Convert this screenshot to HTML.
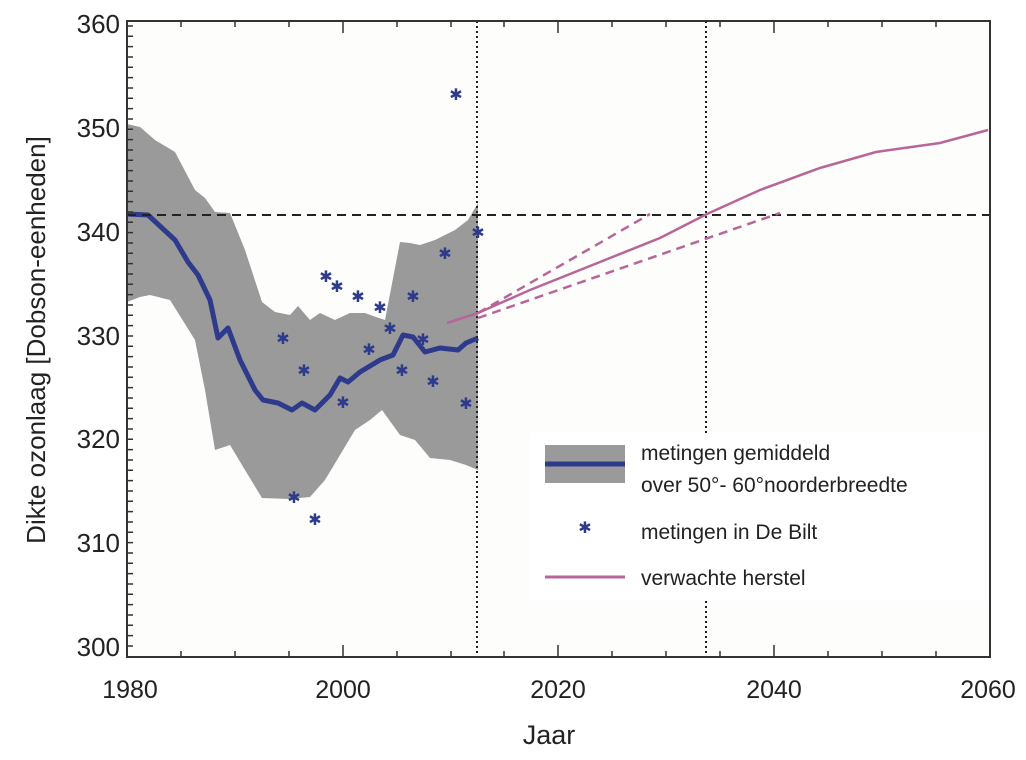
<!DOCTYPE html>
<html><head><meta charset="utf-8"><style>
body{margin:0;background:#fff}
svg{display:block;font-family:"Liberation Sans",sans-serif}
</style></head><body>
<svg width="1026" height="760" viewBox="0 0 1026 760">
<rect width="1026" height="760" fill="#fff"/>
<rect x="127" y="21" width="863" height="636" fill="#fdfdfb"/>
<polygon fill="#9a9a9a" points="127,124 140,127 155,140 175,152 195,190 205,198 215,212 230,213 245,250 262,302 275,312 290,315 298,306 310,320 320,313 335,320 350,313 365,313 373,316 385,320 400,242 410,243 420,245 435,240 455,230 468,220 478,203 478,470 466,465 450,460 430,458 415,440 400,435 382,410 370,420 355,430 340,455 325,480 310,497 290,499 262,498 245,470 230,445 215,450 205,390 195,340 170,300 150,295 140,297 127,302"/>
<polyline fill="none" stroke="#2e3a8c" stroke-width="5" stroke-linejoin="round" points="127,214 148,215 175,240 188,262 198,275 210,300 218,338 228,328 240,360 255,390 263,400 278,403 292,410 302,403 315,410 330,395 340,378 348,382 360,372 380,360 393,355 403,335 413,337 425,352 440,348 458,350 466,343 478,338"/>
<line x1="127" y1="215" x2="990" y2="215" stroke="#222" stroke-width="2" stroke-dasharray="9,6"/>
<line x1="477" y1="21" x2="477" y2="657" stroke="#222" stroke-width="2" stroke-dasharray="2,3"/>
<line x1="706" y1="21" x2="706" y2="657" stroke="#222" stroke-width="2" stroke-dasharray="2,3"/>
<polyline fill="none" stroke="#b8669a" stroke-width="2.5" points="447,323 478,313 530,290 600,262 660,238 707,214 760,190 820,168 876,152 940,143 988,130"/>
<line x1="478" y1="313" x2="650" y2="214" stroke="#b8669a" stroke-width="2.5" stroke-dasharray="9,6"/>
<line x1="478" y1="318" x2="780" y2="213" stroke="#b8669a" stroke-width="2.5" stroke-dasharray="9,6"/>
<g fill="#2e3a8c" font-size="16" text-anchor="middle">
<text x="283" y="344">✱</text><text x="294" y="503">✱</text><text x="304" y="376">✱</text><text x="315" y="525">✱</text><text x="326" y="282">✱</text><text x="337" y="292">✱</text><text x="343" y="408">✱</text><text x="358" y="302">✱</text><text x="369" y="355">✱</text><text x="380" y="313">✱</text><text x="390" y="334">✱</text><text x="402" y="376">✱</text><text x="413" y="302">✱</text><text x="423" y="345">✱</text><text x="433" y="387">✱</text><text x="445" y="259">✱</text><text x="456" y="100">✱</text><text x="466" y="409">✱</text><text x="478" y="238">✱</text>
</g>
<rect x="530" y="433" width="455" height="168" fill="#fff"/>
<rect x="545" y="445" width="80" height="38" fill="#9a9a9a"/>
<line x1="545" y1="464" x2="625" y2="464" stroke="#2e3a8c" stroke-width="5"/>
<text x="585" y="533" fill="#2e3a8c" font-size="16" text-anchor="middle">✱</text>
<line x1="545" y1="577" x2="625" y2="577" stroke="#b8669a" stroke-width="3"/>
<g font-size="21" fill="#222">
<text x="641" y="460">metingen gemiddeld</text>
<text x="641" y="492">over 50°- 60°noorderbreedte</text>
<text x="641" y="539">metingen in De Bilt</text>
<text x="641" y="585">verwachte herstel</text>
</g>
<g stroke="#333" stroke-width="1.5">
<path d="M127,646h6M127,635.6h6M127,625.3h6M127,615h6M127,604.6h6M127,594.3h6M127,584h6M127,573.6h6M127,563.3h6M127,553h6M127,542.6h6M127,532.3h6M127,522h6M127,511.6h6M127,501.3h6M127,491h6M127,480.6h6M127,470.3h6M127,460h6M127,449.6h6M127,439.3h6M127,429h6M127,418.6h6M127,408.3h6M127,398h6M127,387.6h6M127,377.3h6M127,367h6M127,356.6h6M127,346.3h6M127,336h6M127,325.6h6M127,315.3h6M127,305h6M127,294.6h6M127,284.3h6M127,274h6M127,263.6h6M127,253.3h6M127,243h6M127,232.6h6M127,222.3h6M127,212h6M127,201.6h6M127,191.3h6M127,181h6M127,170.6h6M127,160.3h6M127,150h6M127,139.6h6M127,129.3h6M127,119h6M127,108.6h6M127,98.3h6M127,88h6M127,77.6h6M127,67.3h6M127,57h6M127,46.6h6M127,36.3h6M127,26h6"/>
<path d="M181,657v-6M235,657v-6M289,657v-6M343,657v-12M397,657v-6M451,657v-6M504,657v-6M558,657v-12M612,657v-6M666,657v-6M720,657v-6M774,657v-12M828,657v-6M882,657v-6M936,657v-6M181,21v6M235,21v6M289,21v6M343,21v12M397,21v6M451,21v6M504,21v6M558,21v12M612,21v6M666,21v6M720,21v6M774,21v12M828,21v6M882,21v6M936,21v6"/>
</g>
<rect x="127" y="21" width="863" height="636" fill="none" stroke="#333" stroke-width="2"/>
<g font-size="26" fill="#222" text-anchor="end">
<text x="120" y="656">300</text><text x="120" y="552">310</text><text x="120" y="448">320</text><text x="120" y="345">330</text><text x="120" y="241">340</text><text x="120" y="137">350</text><text x="120" y="33">360</text>
</g>
<g font-size="25" fill="#222" text-anchor="middle">
<text x="130" y="698">1980</text><text x="343" y="698">2000</text><text x="558" y="698">2020</text><text x="774" y="698">2040</text><text x="988" y="698">2060</text>
<text x="549" y="744" font-size="27">Jaar</text>
<text transform="translate(45,340) rotate(-90)" font-size="26">Dikte ozonlaag [Dobson-eenheden]</text>
</g>
</svg>
</body></html>
